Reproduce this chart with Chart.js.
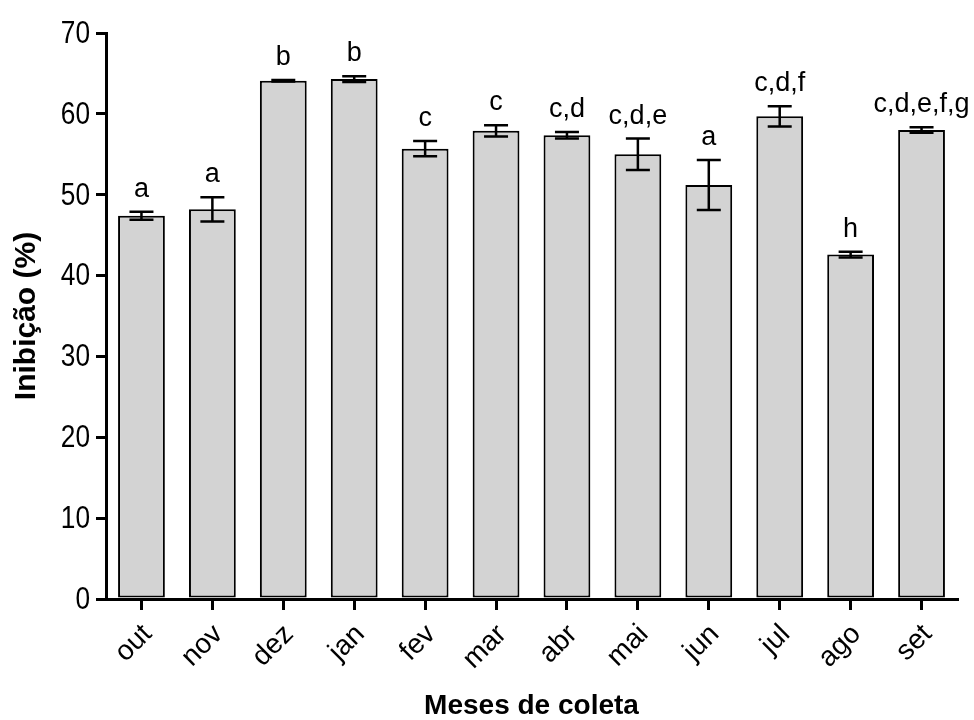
<!DOCTYPE html>
<html>
<head>
<meta charset="utf-8">
<script src="https://cdn.jsdelivr.net/npm/chart.js@4.4.1/dist/chart.umd.min.js"></script>
<style>
  html, body { margin: 0; padding: 0; background: #ffffff; }
  #wrap { width: 974px; height: 720px; position: relative; }
</style>
</head>
<body>
<div id="wrap"><canvas id="c" width="974" height="720"></canvas></div>
<script>
const categories = ['out', 'nov', 'dez', 'jan', 'fev', 'mar', 'abr', 'mai', 'jun', 'jul', 'ago', 'set'];
const means = [47.4, 48.2, 64.1, 64.3, 55.7, 57.9, 57.35, 55.0, 51.2, 59.7, 42.6, 58.0];
const errors = [0.5, 1.5, 0.1, 0.35, 0.95, 0.7, 0.4, 1.95, 3.1, 1.25, 0.35, 0.35];
const letters = ['a', 'a', 'b', 'b', 'c', 'c', 'c,d', 'c,d,e', 'a', 'c,d,f', 'h', 'c,d,e,f,g'];
const yMin = 0, yMax = 70, yStep = 10;

const mainFont = '"Liberation Sans", Arial, sans-serif';

const errorBarPlugin = {
  id: 'errorBars',
  afterDatasetsDraw(chart) {
    const ctx = chart.ctx;
    const meta = chart.getDatasetMeta(0);
    const y = chart.scales.y;
    ctx.save();
    ctx.strokeStyle = '#000';
    ctx.lineWidth = 2.5;
    meta.data.forEach((bar, i) => {
      const x = bar.x;
      const top = y.getPixelForValue(means[i] + errors[i]);
      const bot = y.getPixelForValue(means[i] - errors[i]);
      const half = 12;
      ctx.beginPath();
      ctx.moveTo(x, top); ctx.lineTo(x, bot);
      ctx.moveTo(x - half, top); ctx.lineTo(x + half, top);
      ctx.moveTo(x - half, bot); ctx.lineTo(x + half, bot);
      ctx.stroke();
      ctx.fillStyle = '#000';
      ctx.font = '27px ' + mainFont;
      ctx.textAlign = 'center';
      ctx.textBaseline = 'alphabetic';
      ctx.fillText(letters[i], x, top - 15);
    });
    ctx.restore();
  }
};

// y tick labels drawn condensed (narrow glyphs as in the reference)
const narrowYTicks = {
  id: 'narrowYTicks',
  afterDraw(chart) {
    const ctx = chart.ctx;
    const y = chart.scales.y;
    ctx.save();
    ctx.fillStyle = '#000';
    ctx.font = '32px ' + mainFont;
    ctx.textAlign = 'right';
    ctx.textBaseline = 'middle';
    y.ticks.forEach(t => {
      const py = y.getPixelForValue(t.value);
      ctx.save();
      ctx.translate(y.right - 10 - 6, py + 1);
      ctx.scale(0.82, 1);
      ctx.fillText(String(t.value), 0, 0);
      ctx.restore();
    });
    ctx.restore();
  }
};

new Chart(document.getElementById('c'), {
  type: 'bar',
  data: {
    labels: categories,
    datasets: [{
      data: means,
      backgroundColor: '#d3d3d3',
      borderColor: '#000',
      borderWidth: 2,
      borderSkipped: false,
      categoryPercentage: 1.0,
      barPercentage: 0.66
    }]
  },
  options: {
    responsive: false,
    animation: false,
    devicePixelRatio: 1,
    layout: { padding: { top: 33, right: 17, bottom: 0, left: 5 } },
    plugins: { legend: { display: false }, tooltip: { enabled: false } },
    scales: {
      x: {
        offset: true,
        grid: { display: true, offset: false, drawOnChartArea: false, drawTicks: true, tickLength: 11, color: '#000', lineWidth: 3 },
        border: { display: true, color: '#000', width: 3 },
        ticks: { color: '#000', font: { family: mainFont, size: 28 }, minRotation: 45, maxRotation: 45, padding: 8, labelOffset: 6, autoSkip: false },
        title: { display: true, text: 'Meses de coleta', color: '#000', font: { family: mainFont, size: 28, weight: 'bold', lineHeight: 1 }, padding: { top: 0, bottom: 0 } },
        afterFit(scale) { scale.height = 121; }
      },
      y: {
        min: yMin, max: yMax,
        grid: { display: true, drawOnChartArea: false, drawTicks: true, tickLength: 10, color: '#000', lineWidth: 3 },
        border: { display: true, color: '#000', width: 3 },
        ticks: { display: false, stepSize: yStep },
        title: { display: true, text: 'Inibição (%)', color: '#000', font: { family: mainFont, size: 30, weight: 'bold' }, padding: { top: 4, bottom: 4 } },
        afterFit(scale) { scale.width = 101; }
      }
    }
  },
  plugins: [errorBarPlugin, narrowYTicks]
});
</script>
</body>
</html>
